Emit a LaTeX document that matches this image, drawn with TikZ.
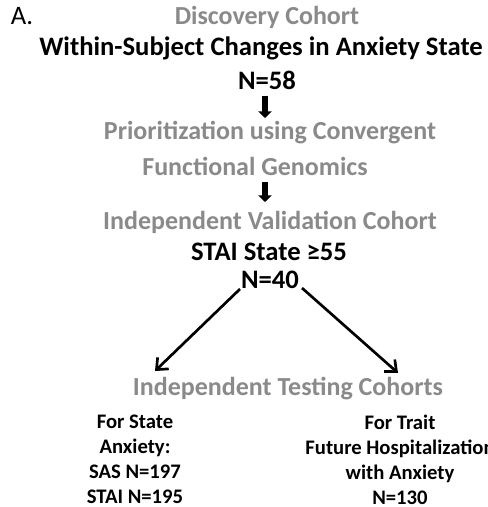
\documentclass[tikz,border=0pt]{standalone}
\usepackage{fontspec}
\setmainfont{Carlito}
\usetikzlibrary{arrows.meta}
\definecolor{cohortgray}{RGB}{138,138,138}
\tikzset{
  stage/.style={font=\fontsize{19.5}{22}\selectfont\bfseries, text=cohortgray, inner sep=0pt},
  detail/.style={font=\fontsize{20}{22}\selectfont\bfseries, inner sep=0pt},
  subgroup/.style={font=\fontsize{15.5}{18.75}\selectfont\bfseries, align=center, inner sep=0pt},
  downarrow/.style={line width=3.8pt, -{Triangle[length=5pt,width=10pt]}},
  splitarrow/.style={line width=2pt, -{Straight Barb[length=7pt,width=12pt,line width=2pt]}}
}
\begin{document}
\begin{tikzpicture}[x=0.75pt,y=-0.75pt]
  \useasboundingbox (0,0) rectangle (488,507);
  % panel letter
  \node[font=\fontsize{20}{22}\selectfont, inner sep=0pt] (panel) at (22,16) {A.};
  % discovery
  \node[stage] (discovery) at (267,17) {Discovery Cohort};
  \node[detail] (within) at (261,48) {Within-Subject Changes in Anxiety State};
  \node[detail] (n58) at (267,80) {N=58};
  % prioritization
  \node[stage] (prior) at (270,133) {Prioritization using Convergent};
  \node[stage] (genomics) at (255,166) {Functional Genomics};
  % validation
  \node[stage] (valid) at (270,222) {Independent Validation Cohort};
  \node[detail] (stai) at (269,252) {STAI State ≥55};
  \node[detail] (n40) at (270,280) {N=40};
  % testing
  \node[stage] (testing) at (288,389) {Independent Testing Cohorts};
  \node[subgroup] (state) at (135,459) {For State\\Anxiety:\\SAS N=197\\STAI N=195};
  \node[subgroup] (trait) at (400,460) {For Trait\\Future Hospitalization\\with Anxiety\\N=130};
  \coordinate (stateend) at (155,371);
  \coordinate (traitend) at (398,373);
  % arrows
  \draw[downarrow] (n58.south -| 265,0) ++(0,6) -- (265,118);
  \draw[downarrow] (genomics.south -| 265,0) ++(0,6) -- (265,202);
  \draw[splitarrow] (240,289) -- (stateend);
  \draw[splitarrow] (302,288) -- (traitend);
\end{tikzpicture}
\end{document}
